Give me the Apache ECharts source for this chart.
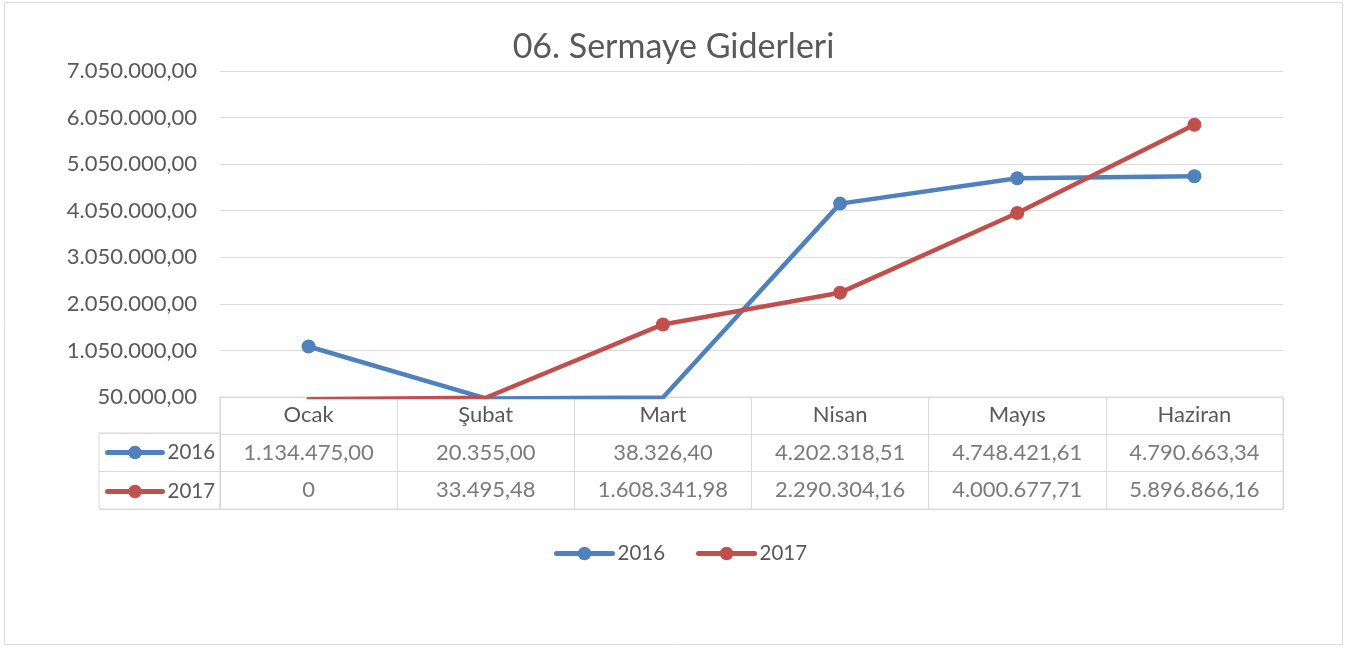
<!DOCTYPE html>
<html>
<head>
<meta charset="utf-8">
<title>06. Sermaye Giderleri</title>
<script src="https://cdn.jsdelivr.net/npm/echarts@6/dist/echarts.min.js"></script>
<style>
    html, body { margin: 0; padding: 0; background: #fff; }
    #chart { width: 1347px; height: 648px; }
</style>
</head>
<body>
<div id="chart"></div>
<script>
const months = ['Ocak', 'Şubat', 'Mart', 'Nisan', 'Mayıs', 'Haziran'];
const years = ['2016', '2017'];
const values2016 = [1134475.00, 20355.00, 38326.40, 4202318.51, 4748421.61, 4790663.34];
const values2017 = [0, 33495.48, 1608341.98, 2290304.16, 4000677.71, 5896866.16];
const yMin = 50000;
const yMax = 7050000;
const yStep = 1000000;

const colors = ['#4F81BD', '#C0504D'];
const textColor = '#595959';
const lineColor = '#d9d9d9';
const font = 'Lato';

// 1234567.8 -> 1.234.567,80
function trNumber(v) {
    if (v === 0) return '0';
    const parts = v.toFixed(2).split('.');
    return parts[0].replace(/\B(?=(\d{3})+(?!\d))/g, '.') + ',' + parts[1];
}

// points under the axis minimum get no marker (like Excel)
function lineData(values) {
    return values.map(v => ({ value: v, symbol: v < yMin ? 'none' : 'circle' }));
}

// table cells: [month index, row index, value]
const cells = [];
[values2016, values2017].forEach((vals, r) => {
    vals.forEach((v, c) => cells.push([c, r + 1, v]));
});

const lineSeries = (name, values, color) => ({
    name: name,
    type: 'line',
    xAxisIndex: 0,
    yAxisIndex: 0,
    data: lineData(values),
    symbol: 'circle',
    symbolSize: 14,
    clip: true,
    itemStyle: { color: color },
    lineStyle: { color: color, width: 4.5, cap: 'round', join: 'round' }
});

const chart = echarts.init(document.getElementById('chart'));
chart.setOption({
    animation: false,
    backgroundColor: '#fff',
    textStyle: { fontFamily: font },
    title: {
        text: '06. Sermaye Giderleri',
        left: 'center',
        top: 25,
        textStyle: { color: textColor, fontSize: 34, fontWeight: 'normal', fontFamily: font }
    },
    legend: [{
        data: years,
        left: 554,
        top: 543,
        padding: 0,
        itemWidth: 56,
        itemHeight: 17,
        itemGap: 31,
        lineStyle: { width: 5, cap: 'round' },
        textStyle: { color: textColor, fontSize: 20.5, fontFamily: font }
    }, {
        data: years,
        orient: 'vertical',
        left: 105,
        top: 442,
        padding: 0,
        itemWidth: 55,
        itemHeight: 17,
        itemGap: 18,
        lineStyle: { width: 5, cap: 'round' },
        textStyle: { color: textColor, fontSize: 20.5, fontFamily: font }
    }],
    grid: [
        { left: 220, right: 64, top: 71, height: 326 },
        { left: 220, right: 64, top: 397, height: 112, show: true, borderColor: lineColor, borderWidth: 1 },
        { left: 99, width: 121, top: 433, height: 76, show: true, borderColor: lineColor, borderWidth: 1 }
    ],
    xAxis: [{
        gridIndex: 0,
        type: 'category',
        data: months,
        boundaryGap: true,
        axisLine: { lineStyle: { color: lineColor } },
        axisTick: { show: false },
        axisLabel: { color: textColor, fontSize: 22, fontFamily: font, margin: 7 }
    }, {
        gridIndex: 1,
        type: 'category',
        data: months,
        boundaryGap: true,
        axisLine: { show: false },
        axisTick: { show: false },
        axisLabel: { show: false },
        splitLine: { show: true, lineStyle: { color: lineColor } }
    }, {
        gridIndex: 2,
        type: 'category',
        data: [''],
        axisLine: { show: false },
        axisTick: { show: false },
        axisLabel: { show: false }
    }],
    yAxis: [{
        gridIndex: 0,
        type: 'value',
        min: yMin,
        max: yMax,
        interval: yStep,
        axisLine: { show: false },
        axisTick: { show: false },
        axisLabel: {
            color: textColor, fontSize: 22, fontFamily: font, margin: 23,
            formatter: v => trNumber(v)
        },
        splitLine: { lineStyle: { color: lineColor } }
    }, {
        gridIndex: 1,
        type: 'category',
        data: [''].concat(years),
        inverse: true,
        axisLine: { show: false },
        axisTick: { show: false },
        axisLabel: { show: false },
        splitLine: { show: true, lineStyle: { color: lineColor } }
    }, {
        gridIndex: 2,
        type: 'category',
        data: years,
        inverse: true,
        axisLine: { show: false },
        axisTick: { show: false },
        axisLabel: { show: false },
        splitLine: { show: true, lineStyle: { color: lineColor } }
    }],
    graphic: [{
        type: 'rect',
        silent: true,
        shape: { x: 4.5, y: 2.5, width: 1338, height: 642 },
        style: { fill: 'none', stroke: lineColor, lineWidth: 1 }
    }],
    series: [
        lineSeries('2016', values2016, colors[0]),
        lineSeries('2017', values2017, colors[1]),
        {
            name: 'tablo',
            type: 'scatter',
            xAxisIndex: 1,
            yAxisIndex: 1,
            data: cells,
            symbolSize: 1,
            itemStyle: { color: 'transparent' },
            silent: true,
            label: {
                show: true,
                position: 'inside',
                color: textColor,
                fontSize: 22,
                fontFamily: font,
                formatter: p => trNumber(p.value[2])
            }
        }
    ]
});
</script>
</body>
</html>
